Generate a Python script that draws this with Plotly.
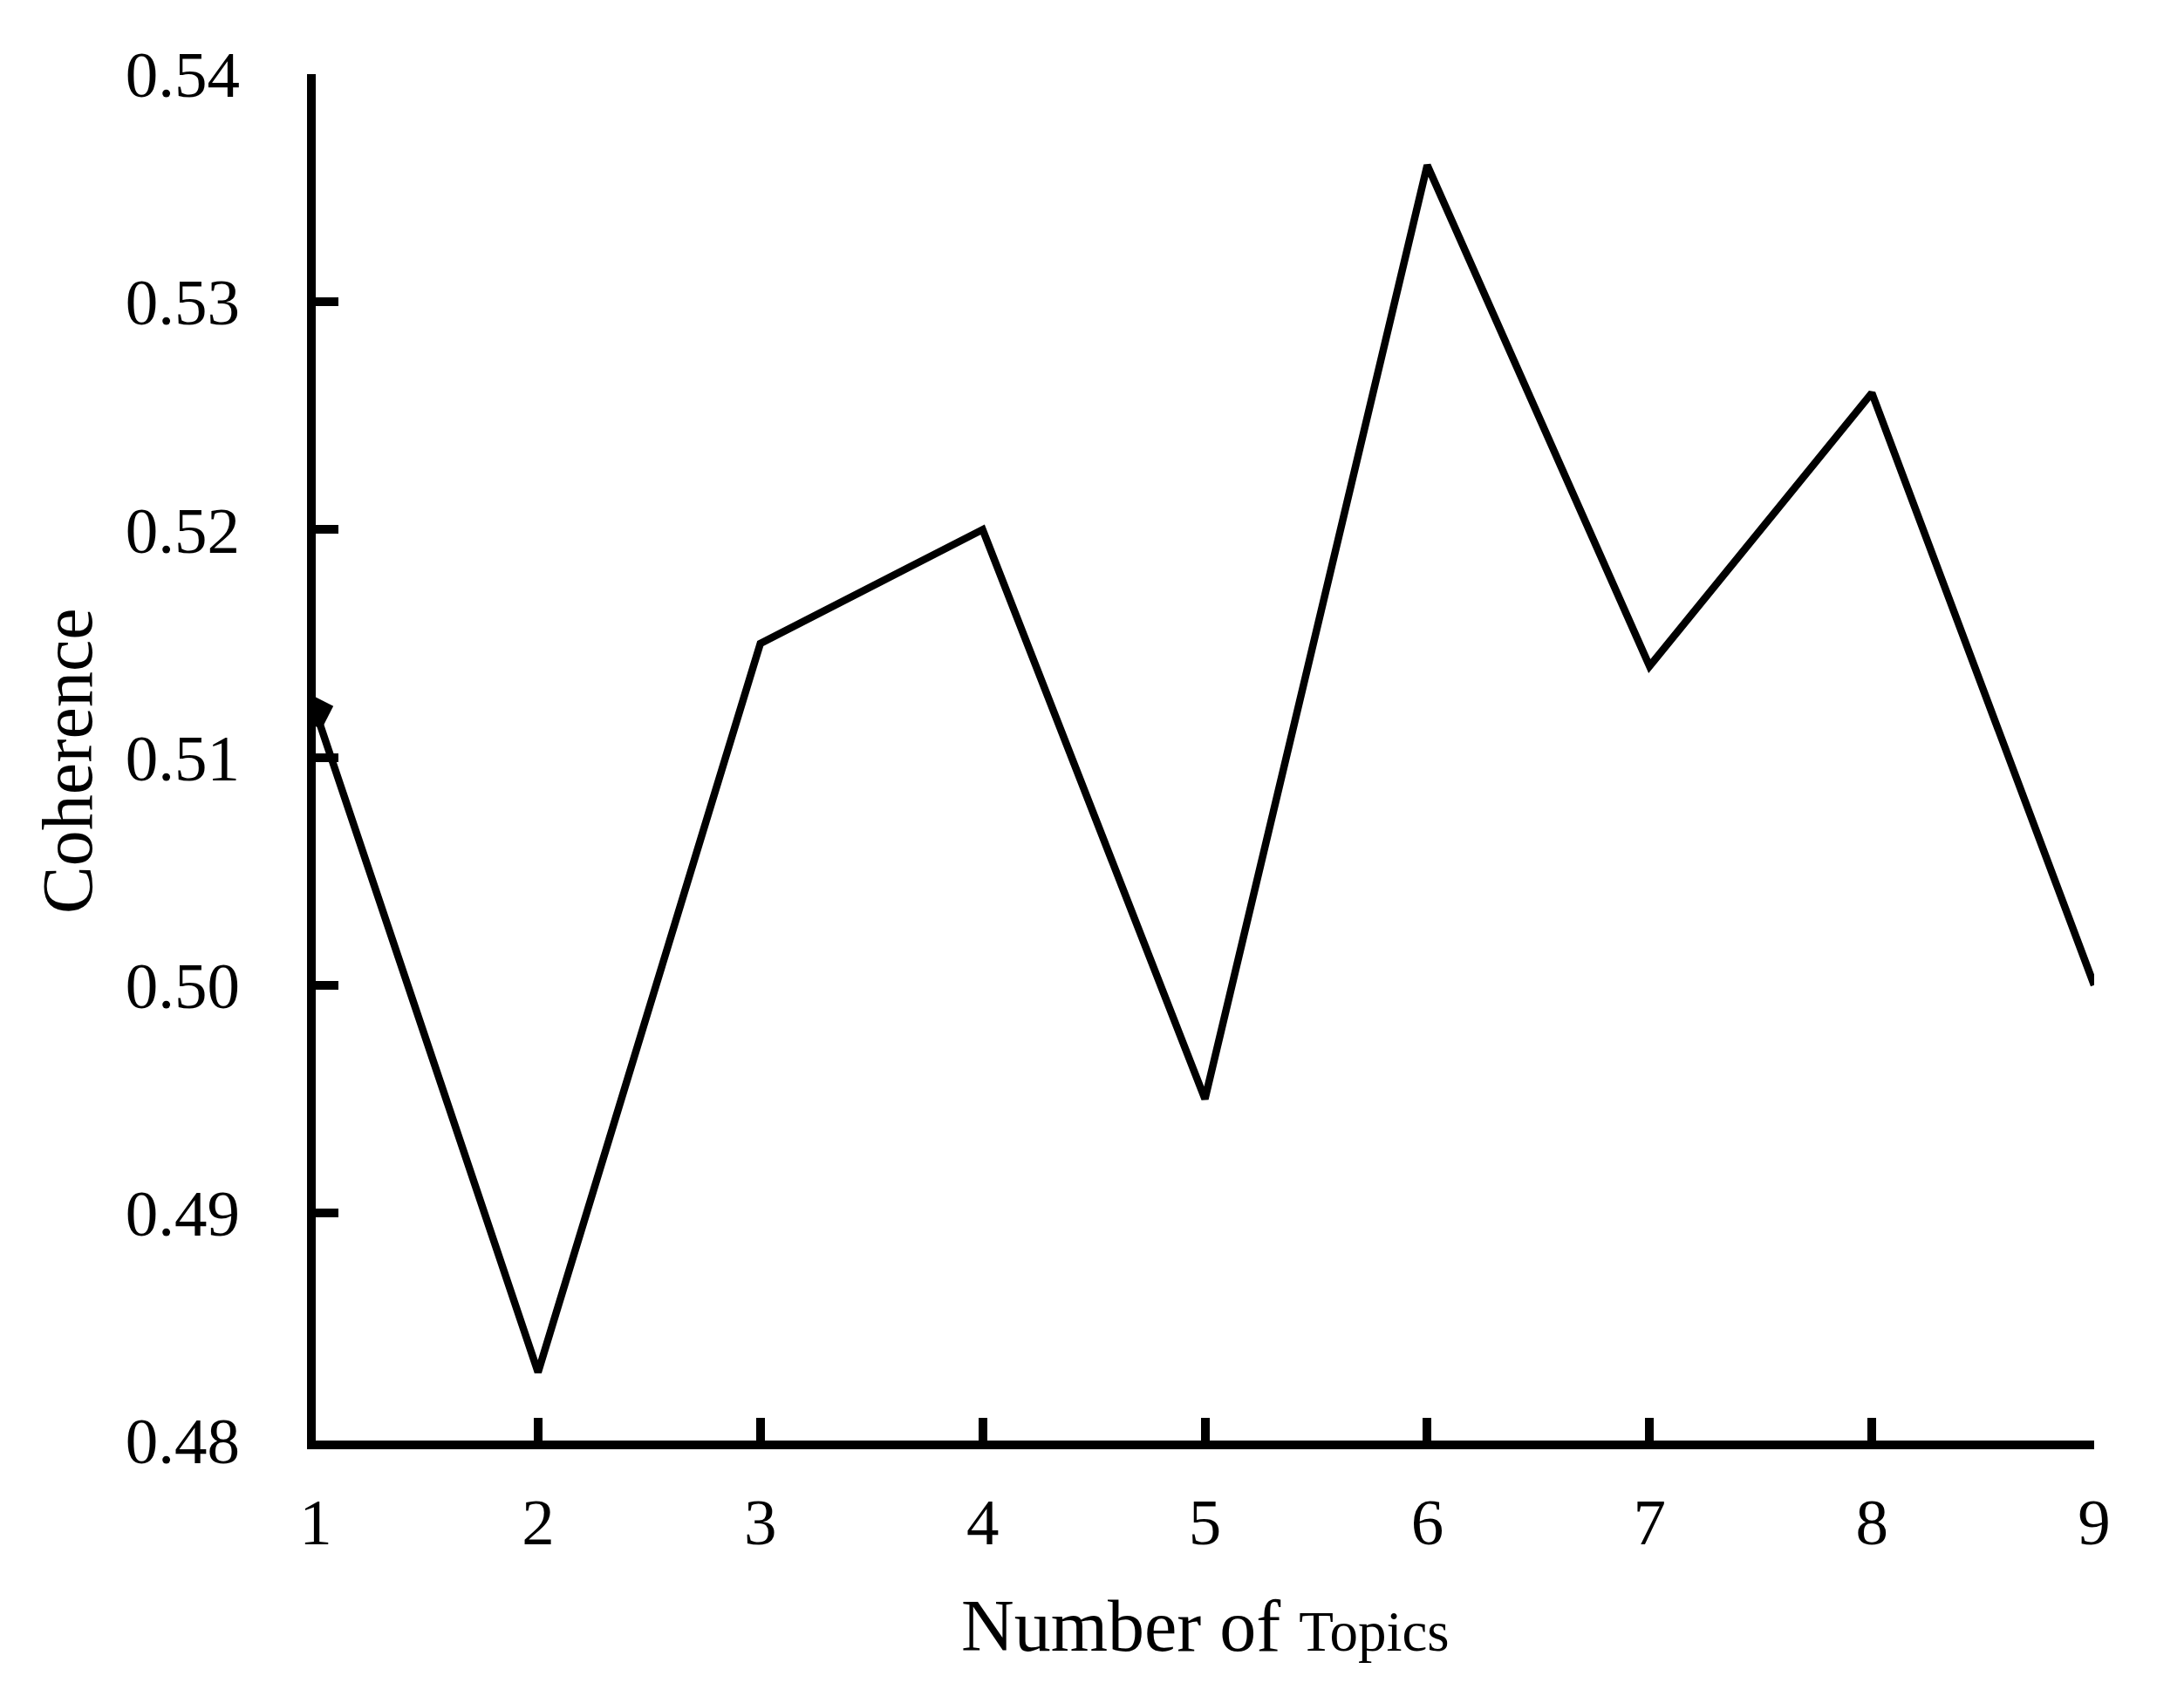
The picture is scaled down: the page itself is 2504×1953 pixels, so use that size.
import plotly.graph_objects as go

topics = [1, 2, 3, 4, 5, 6, 7, 8, 9]
coherence = [0.512, 0.483, 0.515, 0.520, 0.495, 0.536, 0.514, 0.526, 0.500]
y_ticks = [0.48, 0.49, 0.50, 0.51, 0.52, 0.53, 0.54]
y_ticktext = ["0.48", "0.49", "0.50", "0.51", "0.52", "0.53", "0.54"]

W, H = 2504, 1953
L, R, T, B = 354, 111, 77, 309
FONT = "Liberation Serif, Times New Roman, serif"

fig = go.Figure()
fig.add_trace(go.Scatter(
    x=topics, y=coherence, mode="lines",
    line=dict(color="black", width=8.5),
    showlegend=False,
))
fig.add_trace(go.Scatter(
    x=topics[:1], y=coherence[:1], mode="markers",
    marker=dict(symbol="square", size=30, color="black", angle=27),
    showlegend=False,
))

fig.update_layout(
    width=W, height=H,
    margin=dict(l=L, r=R, t=T, b=B),
    paper_bgcolor="white", plot_bgcolor="white",
    font=dict(family=FONT, size=75, color="black"),
)
fig.update_xaxes(
    range=[1, 9], tickvals=topics, ticktext=[str(t) for t in topics],
    showgrid=False, zeroline=False,
    showline=True, linecolor="black", linewidth=10,
    ticks="inside", ticklen=26, tickwidth=10, tickcolor="black",
    tickfont=dict(family=FONT, size=75, color="black"),
    ticklabelstandoff=19,
)
fig.update_yaxes(
    range=[0.48, 0.54], tickvals=y_ticks, ticktext=y_ticktext,
    showgrid=False, zeroline=False,
    showline=True, linecolor="black", linewidth=10,
    ticks="inside", ticklen=26, tickwidth=10, tickcolor="black",
    tickfont=dict(family=FONT, size=75, color="black"),
    ticklabelstandoff=62,
)
fig.add_annotation(
    text="Number of <span style='font-size:65px'>Topics</span>",
    xref="paper", yref="paper", x=0.5, y=-0.1359,
    xanchor="center", yanchor="middle", showarrow=False,
    font=dict(family=FONT, size=84, color="black"),
)
fig.add_annotation(
    text="Coherence",
    xref="paper", yref="paper", x=-0.1393, y=0.4978,
    xanchor="center", yanchor="middle", showarrow=False, textangle=-90,
    font=dict(family=FONT, size=82, color="black"),
)
fig.write_html("out.html")
